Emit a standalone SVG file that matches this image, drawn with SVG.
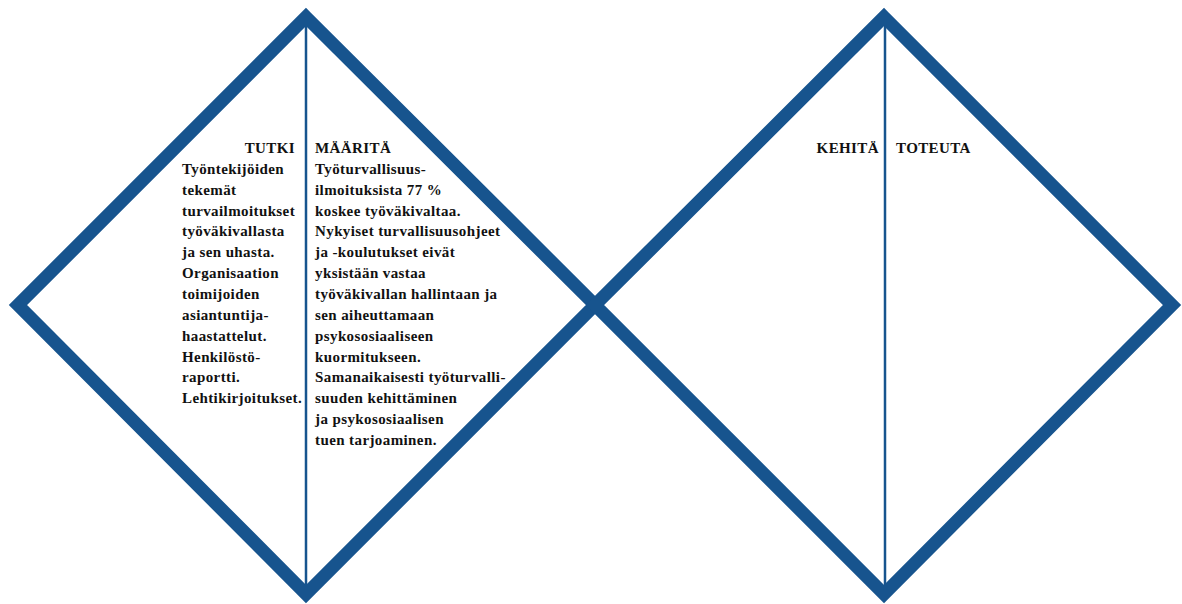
<svg xmlns="http://www.w3.org/2000/svg" width="1182" height="604" viewBox="0 0 1182 604">
<style>
.frame{fill:none;stroke:#17548e;stroke-width:13;stroke-linejoin:miter;stroke-miterlimit:10}
.axis{stroke:#17548e;stroke-width:2.5}
text{font-family:"Liberation Serif","Times New Roman",serif;font-weight:bold;font-size:15px;fill:#111;letter-spacing:0.4px}
</style>
<rect width="1182" height="604" fill="#fff"/>
<g id="diamond-left">
<polygon class="frame" points="306,17 595,305 306,594 18,305"/>
<line class="axis" x1="306" y1="20" x2="306" y2="590"/>
</g>
<g id="diamond-right">
<polygon class="frame" points="884,17 1172,305 884,594 595,305"/>
<line class="axis" x1="885" y1="20" x2="885" y2="590"/>
</g>
<g id="tutki">
<text x="295" y="153" text-anchor="end">TUTKI</text>
<text x="182">
<tspan x="182" y="174">Työntekijöiden</tspan>
<tspan x="182" y="195">tekemät</tspan>
<tspan x="182" y="216">turvailmoitukset</tspan>
<tspan x="182" y="236">työväkivallasta</tspan>
<tspan x="182" y="257">ja sen uhasta.</tspan>
<tspan x="182" y="278">Organisaation</tspan>
<tspan x="182" y="299">toimijoiden</tspan>
<tspan x="182" y="320">asiantuntija-</tspan>
<tspan x="182" y="341">haastattelut.</tspan>
<tspan x="182" y="362">Henkilöstö-</tspan>
<tspan x="182" y="382">raportti.</tspan>
<tspan x="182" y="403">Lehtikirjoitukset.</tspan>
</text>
</g>
<g id="maarita">
<text x="315">
<tspan x="315" y="153">MÄÄRITÄ</tspan>
<tspan x="315" y="174">Työturvallisuus-</tspan>
<tspan x="315" y="195">ilmoituksista 77 %</tspan>
<tspan x="315" y="216">koskee työväkivaltaa.</tspan>
<tspan x="315" y="236">Nykyiset turvallisuusohjeet</tspan>
<tspan x="315" y="257">ja -koulutukset eivät</tspan>
<tspan x="315" y="278">yksistään vastaa</tspan>
<tspan x="315" y="299">työväkivallan hallintaan ja</tspan>
<tspan x="315" y="320">sen aiheuttamaan</tspan>
<tspan x="315" y="341">psykososiaaliseen</tspan>
<tspan x="315" y="362">kuormitukseen.</tspan>
<tspan x="315" y="382">Samanaikaisesti työturvalli-</tspan>
<tspan x="315" y="403">suuden kehittäminen</tspan>
<tspan x="315" y="424">ja psykososiaalisen</tspan>
<tspan x="315" y="445">tuen tarjoaminen.</tspan>
</text>
</g>
<g id="kehita">
<text x="879" y="153" text-anchor="end">KEHITÄ</text>
</g>
<g id="toteuta">
<text x="896" y="153">TOTEUTA</text>
</g>
<g id="connectors"></g>
</svg>
